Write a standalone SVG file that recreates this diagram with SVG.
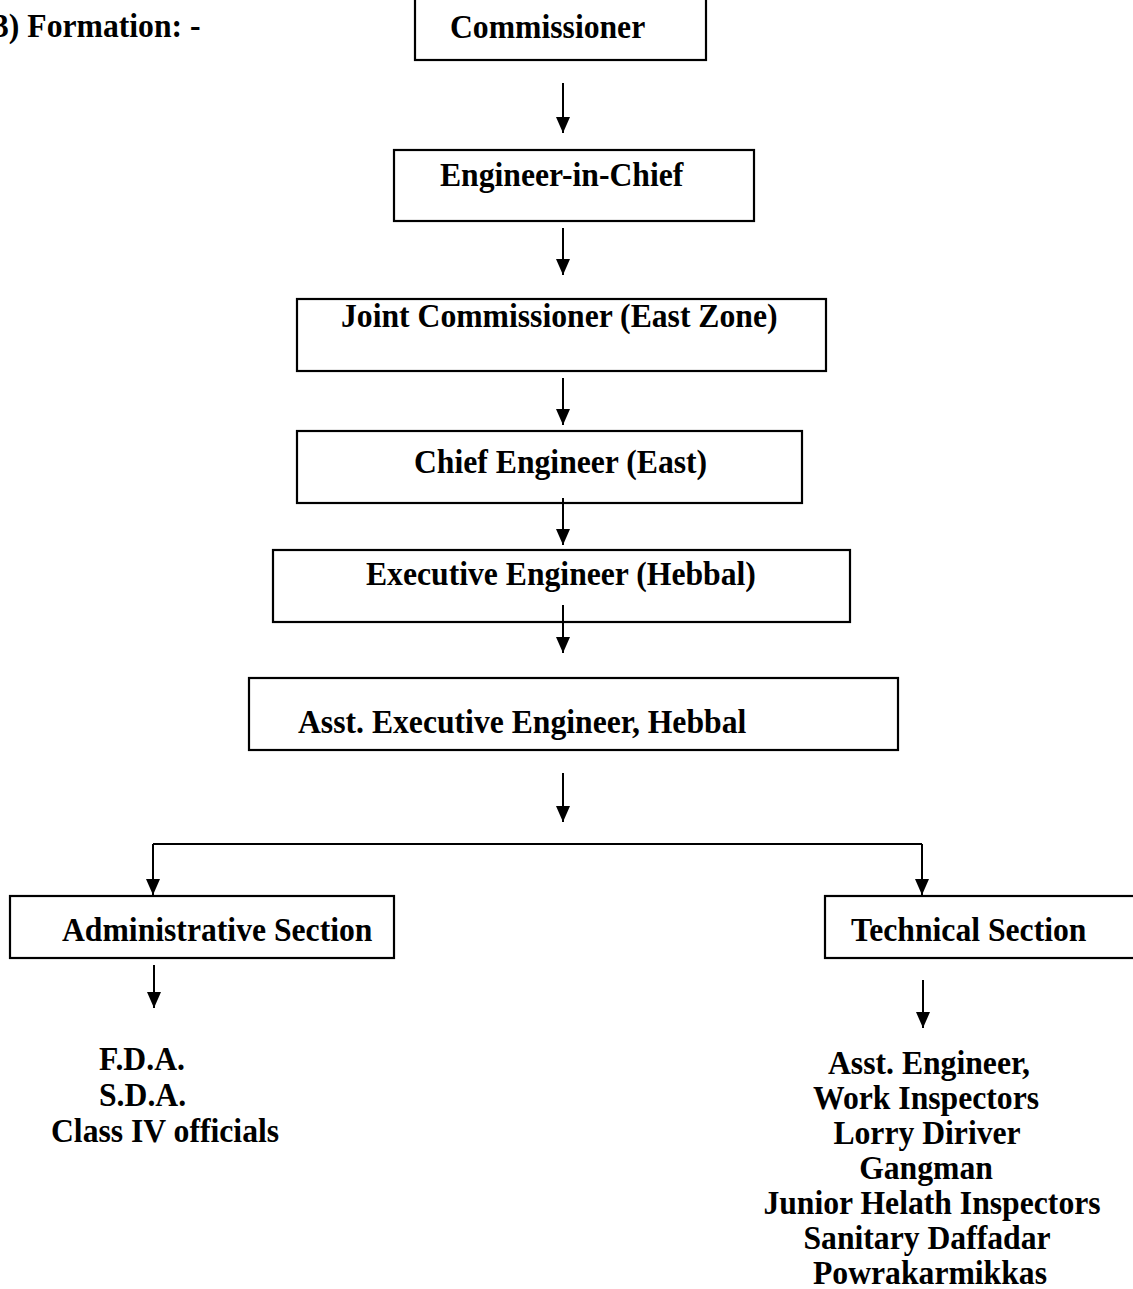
<svg xmlns="http://www.w3.org/2000/svg" width="1133" height="1289" viewBox="0 0 1133 1289">
<defs>
<style>
.box{fill:#fff;stroke:#000;stroke-width:2.2}
.t{font-family:"Liberation Serif","Times New Roman",serif;font-weight:bold;font-size:33px;fill:#000}
.m{text-anchor:middle}
.c{stroke:#000;stroke-width:2;fill:none}
</style>
<marker id="a" markerUnits="userSpaceOnUse" markerWidth="16" markerHeight="14" refX="16" refY="7" orient="auto" viewBox="0 0 16 14">
<path d="M0,0 L16,7 L0,14 Z" fill="#000"/>
</marker>
</defs>
<rect width="1133" height="1289" fill="#fff"/>
<text class="t" transform="translate(-7,37) scale(0.96,1)">3) Formation: -</text>
<g id="n1"><rect class="box" x="415" y="-2" width="291" height="62"/><text class="t" transform="translate(450,38) scale(0.96,1)">Commissioner</text></g>
<g id="n2"><rect class="box" x="394" y="150" width="360" height="71"/><text class="t" transform="translate(440,186) scale(0.96,1)">Engineer-in-Chief</text></g>
<g id="n3"><rect class="box" x="297" y="299" width="529" height="72"/><text class="t" transform="translate(341,327) scale(0.96,1)">Joint Commissioner (East Zone)</text></g>
<g id="n4"><rect class="box" x="297" y="431" width="505" height="72"/><text class="t" transform="translate(414,473) scale(0.96,1)">Chief Engineer (East)</text></g>
<g id="n5"><rect class="box" x="273" y="550" width="577" height="72"/><text class="t" transform="translate(366,585) scale(0.96,1)">Executive Engineer (Hebbal)</text></g>
<g id="n6"><rect class="box" x="249" y="678" width="649" height="72"/><text class="t" transform="translate(298,733) scale(0.96,1)">Asst. Executive Engineer, Hebbal</text></g>
<g id="n7"><rect class="box" x="10" y="896" width="384" height="62"/><text class="t" transform="translate(62,941) scale(0.96,1)">Administrative Section</text></g>
<g id="n8"><rect class="box" x="825" y="896" width="320" height="62"/><text class="t" transform="translate(851,941) scale(0.96,1)">Technical Section</text></g>
<g id="n9">
<text class="t" transform="translate(99,1070) scale(0.96,1)">F.D.A.</text>
<text class="t" transform="translate(99,1106) scale(0.96,1)">S.D.A.</text>
<text class="t" transform="translate(51,1142) scale(0.96,1)">Class IV officials</text>
</g>
<g id="n10">
<text class="t m" transform="translate(929,1074) scale(0.96,1)">Asst. Engineer,</text>
<text class="t m" transform="translate(926,1109) scale(0.96,1)">Work Inspectors</text>
<text class="t m" transform="translate(927,1144) scale(0.96,1)">Lorry Diriver</text>
<text class="t m" transform="translate(926,1179) scale(0.96,1)">Gangman</text>
<text class="t m" transform="translate(932,1214) scale(0.96,1)">Junior Helath Inspectors</text>
<text class="t m" transform="translate(927,1249) scale(0.96,1)">Sanitary Daffadar</text>
<text class="t m" transform="translate(930,1284) scale(0.96,1)">Powrakarmikkas</text>
</g>
<g id="connectors">
<line class="c" x1="563" y1="83" x2="563" y2="133" marker-end="url(#a)"/>
<line class="c" x1="563" y1="228" x2="563" y2="275" marker-end="url(#a)"/>
<line class="c" x1="563" y1="378" x2="563" y2="425" marker-end="url(#a)"/>
<line class="c" x1="563" y1="498" x2="563" y2="545" marker-end="url(#a)"/>
<line class="c" x1="563" y1="605" x2="563" y2="653" marker-end="url(#a)"/>
<line class="c" x1="563" y1="773" x2="563" y2="822" marker-end="url(#a)"/>
<line class="c" x1="153" y1="844" x2="922" y2="844"/>
<line class="c" x1="153" y1="844" x2="153" y2="895" marker-end="url(#a)"/>
<line class="c" x1="922" y1="844" x2="922" y2="895" marker-end="url(#a)"/>
<line class="c" x1="154" y1="965" x2="154" y2="1008" marker-end="url(#a)"/>
<line class="c" x1="923" y1="980" x2="923" y2="1028" marker-end="url(#a)"/>
</g>
</svg>
